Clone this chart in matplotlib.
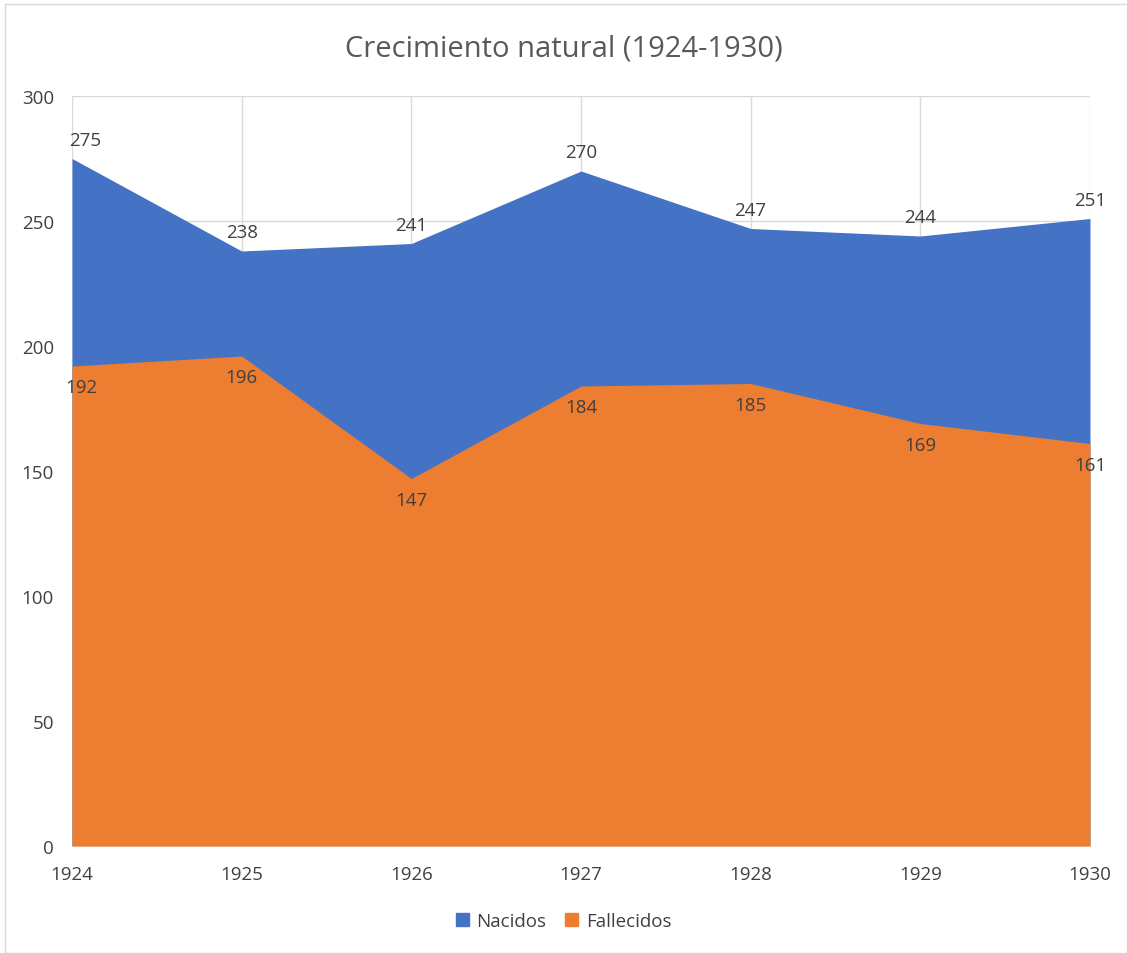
import matplotlib.pyplot as plt
from matplotlib.patches import Patch

years = [1924, 1925, 1926, 1927, 1928, 1929, 1930]
nacidos = [275, 238, 241, 270, 247, 244, 251]
fallecidos = [192, 196, 147, 184, 185, 169, 161]

blue = '#4472C4'
orange = '#ED7D31'
grid = '#D9D9D9'
txt = '#404040'

plt.rcParams['font.family'] = ['Open Sans', 'DejaVu Sans']

fig = plt.figure(figsize=(11.27, 9.54), dpi=100)
ax = fig.add_axes([72 / 1127, 1 - 847 / 954, (1090 - 72) / 1127, (847 - 97) / 954])

ax.fill_between(years, 0, nacidos, color=blue, linewidth=0, zorder=2)
ax.fill_between(years, 0, fallecidos, color=orange, linewidth=0, zorder=3)

ax.set_xlim(years[0], years[-1])
ax.set_ylim(0, 300)
ax.set_xticks(years)
ax.set_yticks(range(0, 301, 50))
ax.grid(True, color=grid, linewidth=1, zorder=1)
ax.set_axisbelow(True)
for s in ['top', 'right', 'left']:
    ax.spines[s].set_visible(False)
ax.spines['bottom'].set_color(grid)
ax.tick_params(length=0, labelsize=13.5, colors=txt)
ax.tick_params(axis='x', pad=14)
ax.tick_params(axis='y', pad=13)

for i, (x, n, f) in enumerate(zip(years, nacidos, fallecidos)):
    dx = 0.08 if i == 0 else 0
    ax.annotate(str(n), (x + dx, n), xytext=(0, 7), textcoords='offset points',
                ha='center', va='bottom', fontsize=13.5, color=txt, zorder=5)
    ax.annotate(str(f), (x + dx * 0.7, f), xytext=(0, -9), textcoords='offset points',
                ha='center', va='top', fontsize=13.5, color=txt, zorder=5)

fig.text(0.5, 1 - 49 / 954, 'Crecimiento natural (1924-1930)', ha='center', va='center',
         fontsize=21, color='#595959')

handles = [Patch(color=blue, label='Nacidos'), Patch(color=orange, label='Fallecidos')]
fig.legend(handles=handles, loc='center', bbox_to_anchor=(0.5, 1 - 922 / 954), ncol=2,
           frameon=False, fontsize=13.5, handlelength=0.7, handleheight=0.7,
           handletextpad=0.4, columnspacing=1.0, labelcolor=txt)

border = plt.Rectangle((5 / 1127, 0), 1 - 5 / 1127, 1 - 5 / 954, transform=fig.transFigure,
                       fill=False, edgecolor=grid, linewidth=1)
fig.patches.append(border)

fig.savefig('out.png', dpi=100, facecolor='white')
